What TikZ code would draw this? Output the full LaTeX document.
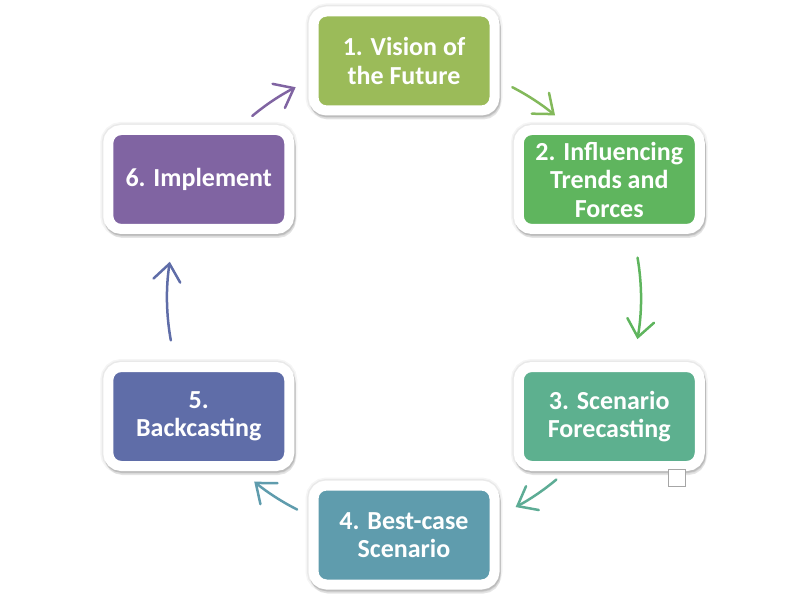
\documentclass[tikz,border=0pt]{standalone}
\usepackage{fontspec}
\setmainfont{Carlito}
\usepackage{tikz}
\usetikzlibrary{arrows.meta}
\definecolor{visioncol}{HTML}{9BBB59}
\definecolor{trendcol}{HTML}{5FB55E}
\definecolor{forecastcol}{HTML}{5DB08F}
\definecolor{bestcol}{HTML}{5F9CAD}
\definecolor{backcol}{HTML}{5F6DA8}
\definecolor{implcol}{HTML}{8064A2}
\tikzstyle{stepbox}=[rounded corners=13pt,draw=white,line width=10pt,
                minimum width=181pt,minimum height=99pt,inner sep=0pt,
                text=white,align=center,
                font=\bfseries\fontsize{26}{28.5}\selectfont,
                preaction={draw=black,opacity=0.04,line width=16pt},
                preaction={draw=black,opacity=0.05,line width=13pt},
                preaction={draw=black,fill=black,opacity=0.10,
                  transform canvas={xshift=1pt,yshift=-2pt}},
                preaction={draw=black,fill=black,opacity=0.10,
                  transform canvas={xshift=1.5pt,yshift=-4pt}}]
\tikzstyle{cyclearrow}=[line width=2.5pt,line cap=round,
                -{Straight Barb[length=17pt,width=27pt,line cap=round]}]
\tikzstyle{handlebox}=[draw=gray!70,fill=white,line width=1.2pt,
                minimum size=17pt,inner sep=0pt]

\begin{document}
\begin{tikzpicture}[x=1pt,y=1pt]
\useasboundingbox (0,0) rectangle (802,603);
\coordinate (hub) at (404,305);
\node[stepbox,fill=visioncol] (vision) at ([shift={(90:237)}]hub) {1. Vision of\\the Future};
\node[stepbox,fill=trendcol] (trends) at ([shift={(30:237)}]hub) {2. Influencing\\Trends and\\Forces};
\node[stepbox,fill=forecastcol] (forecast) at ([shift={(-30:237)}]hub) {3. Scenario\\Forecasting};
\node[stepbox,fill=bestcol] (bestcase) at ([shift={(-90:237)}]hub) {4. Best-case\\Scenario};
\node[stepbox,fill=backcol] (backcast) at ([shift={(210:237)}]hub) {5.\\Backcasting};
\node[stepbox,fill=implcol] (implement) at ([shift={(150:237)}]hub) {6. Implement};
\node[handlebox] (handle) at (677,125) {};
% arrows round the cycle
\foreach \from/\to/\col in {62.8/50.4/visioncol!60!trendcol,
                            9.8/-10/trendcol,
                            -50/-61.9/forecastcol!80!bestcol,
                            -116.8/-129.2/bestcol,
                            190.3/171.2/backcol,
                            129.8/117.2/implcol}
  \draw[cyclearrow,\col] ([shift={(\from:237)}]hub)
    arc[start angle=\from,end angle=\to,radius=237];
\end{tikzpicture}
\end{document}
